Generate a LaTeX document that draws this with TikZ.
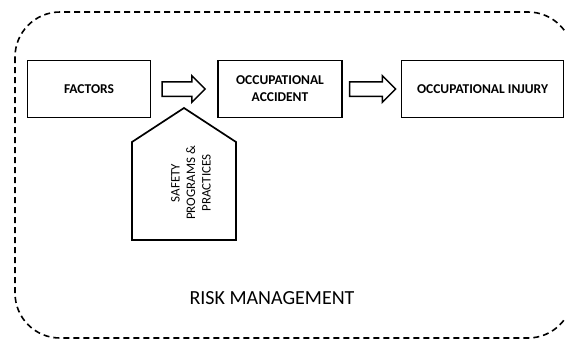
\documentclass[tikz,border=0pt]{standalone}
\usepackage{fontspec}
\setmainfont{Carlito}
\usetikzlibrary{positioning, shapes.arrows}

\begin{document}
\begin{tikzpicture}[x=1pt, y=-1pt,
                box/.style={draw, line width=1.7pt, minimum height=57pt,
                           align=center, font=\fontsize{13.5}{17}\selectfont\bfseries, inner sep=2pt},
                blockarrow/.style={draw, line width=1.5pt, single arrow, single arrow head extend=6pt,
                           inner sep=0pt, text height=0pt, text depth=0pt, inner ysep=6.5pt,
                           shape border rotate=0, single arrow tip angle=90},
                border/.style={dashed, line width=1.6pt, dash pattern=on 6pt off 4pt, rounded corners=45pt}]

                \useasboundingbox (0,0) rectangle (565,343);

                % dashed risk management frame, runs off the right edge
                \begin{scope}
                  \clip (0,0) rectangle (565,343);
                  \draw[border] (15,12) rectangle (573,338);
                \end{scope}

                % chain of boxes
                \node[box, minimum width=123pt] (factors) at (89,89) {FACTORS};
                \node[blockarrow, minimum height=43pt, right=10pt of factors] (arrowa) {};
                \node[box, minimum width=124pt, right=11pt of arrowa] (accident) {OCCUPATIONAL\\ACCIDENT};
                \node[blockarrow, minimum height=46pt, right=6pt of accident] (arrowb) {};
                \node[box, minimum width=162pt, right=4pt of arrowb] (injury) {OCCUPATIONAL INJURY};

                % safety programs pentagon
                \draw[line width=1.7pt, line join=miter] (132,240) -- (132,142) -- (184,108) -- (236,142) -- (236,240) -- cycle;
                \node[rotate=90, align=center, font=\fontsize{13}{15.5}\selectfont] (safety) at (191,183)
                     {SAFETY\\PROGRAMS \&\\PRACTICES};

                % frame label
                \node[font=\fontsize{20}{24}\selectfont] (risk) at (272,298) {RISK MANAGEMENT};
            \end{tikzpicture}
\end{document}
